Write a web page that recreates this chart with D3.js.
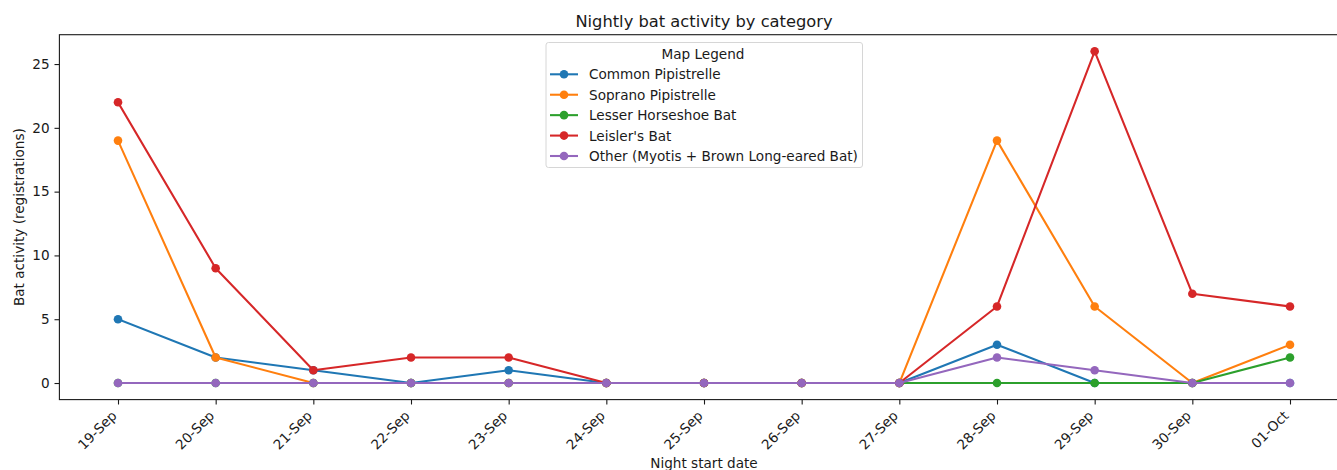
<!DOCTYPE html>
<html>
<head>
<meta charset="utf-8">
<script src="https://cdn.jsdelivr.net/npm/d3@7"></script>
<style>
  html, body { margin: 0; padding: 0; background: #fff; }
  svg { display: block; font-family: "DejaVu Sans", sans-serif; }
</style>
</head>
<body>
<svg id="chart" width="1337" height="470"></svg>
<script>
  // ── Data ────────────────────────────────────────────────────────────────────
  const dates = ["19-Sep", "20-Sep", "21-Sep", "22-Sep", "23-Sep", "24-Sep", "25-Sep",
                 "26-Sep", "27-Sep", "28-Sep", "29-Sep", "30-Sep", "01-Oct"];

  const seriesNames = ["Common Pipistrelle", "Soprano Pipistrelle", "Lesser Horseshoe Bat",
                       "Leisler's Bat", "Other (Myotis + Brown Long-eared Bat)"];
  const seriesColors = ["#1f77b4", "#ff7f0e", "#2ca02c", "#d62728", "#9467bd"];

  const commonPip   = [5, 2, 1, 0, 1, 0, 0, 0, 0, 3, 0, 0, 0];
  const sopranoPip  = [19, 2, 0, 0, 0, 0, 0, 0, 0, 19, 6, 0, 3];
  const lesserHorse = [0, 0, 0, 0, 0, 0, 0, 0, 0, 0, 0, 0, 2];
  const leislers    = [22, 9, 1, 2, 2, 0, 0, 0, 0, 6, 26, 7, 6];
  const otherBats   = [0, 0, 0, 0, 0, 0, 0, 0, 0, 2, 1, 0, 0];
  const seriesValues = [commonPip, sopranoPip, lesserHorse, leislers, otherBats];

  const yTicks = [0, 5, 10, 15, 20, 25];

  // ── Layout ──────────────────────────────────────────────────────────────────
  const AX_LEFT   = 59.4;
  const AX_RIGHT  = 1348.6;   // right spine falls just outside the window
  const AX_TOP    = 34.7;
  const AX_BOTTOM = 399.6;
  const TICK_FS   = 13.6;
  const TEXT_COL  = "#1a1a1a";

  const svg = d3.select("#chart");

  const x = d3.scaleLinear()
    .domain([-0.6, dates.length - 1 + 0.6])
    .range([AX_LEFT, AX_RIGHT]);

  const y = d3.scaleLinear()
    .domain([-1.3, 27.3])
    .range([AX_BOTTOM, AX_TOP]);

  // ── Lines + markers ─────────────────────────────────────────────────────────
  const line = d3.line()
    .x((d, i) => x(i))
    .y(d => y(d));

  const plot = svg.append("g");

  seriesValues.forEach((vals, s) => {
    plot.append("path")
      .datum(vals)
      .attr("d", line)
      .attr("fill", "none")
      .attr("stroke", seriesColors[s])
      .attr("stroke-width", 2.08)
      .attr("stroke-linejoin", "round")
      .attr("stroke-linecap", "square");

    plot.selectAll(null)
      .data(vals)
      .join("circle")
      .attr("cx", (d, i) => x(i))
      .attr("cy", d => y(d))
      .attr("r", 4.3)
      .attr("fill", seriesColors[s]);
  });

  // ── Spines ──────────────────────────────────────────────────────────────────
  svg.append("rect")
    .attr("x", AX_LEFT)
    .attr("y", AX_TOP)
    .attr("width", AX_RIGHT - AX_LEFT)
    .attr("height", AX_BOTTOM - AX_TOP)
    .attr("fill", "none")
    .attr("stroke", TEXT_COL)
    .attr("stroke-width", 1.1);

  // ── Axes ────────────────────────────────────────────────────────────────────
  const xAxisG = svg.append("g")
    .attr("transform", `translate(0, ${AX_BOTTOM})`)
    .call(d3.axisBottom(x)
      .tickValues(d3.range(dates.length))
      .tickFormat(i => dates[i])
      .tickSize(4.9)
      .tickSizeOuter(0));
  xAxisG.select(".domain").remove();
  xAxisG.selectAll(".tick line").attr("stroke", TEXT_COL).attr("stroke-width", 1.1);
  xAxisG.selectAll(".tick text")
    .attr("font-family", "DejaVu Sans")
    .attr("font-size", TICK_FS)
    .attr("fill", TEXT_COL)
    .attr("text-anchor", "end")
    .attr("dy", null)
    .attr("y", null)
    .attr("transform", "translate(-1, 17) rotate(-45)");

  const yAxisG = svg.append("g")
    .attr("transform", `translate(${AX_LEFT}, 0)`)
    .call(d3.axisLeft(y)
      .tickValues(yTicks)
      .tickSize(4.9)
      .tickPadding(4.9)
      .tickSizeOuter(0));
  yAxisG.select(".domain").remove();
  yAxisG.selectAll(".tick line").attr("stroke", TEXT_COL).attr("stroke-width", 1.1);
  yAxisG.selectAll(".tick text")
    .attr("font-family", "DejaVu Sans")
    .attr("font-size", TICK_FS)
    .attr("fill", TEXT_COL);

  // ── Titles ──────────────────────────────────────────────────────────────────
  const midX = (AX_LEFT + AX_RIGHT) / 2;

  svg.append("text")
    .attr("x", midX)
    .attr("y", 27)
    .attr("text-anchor", "middle")
    .attr("font-size", 16.3)
    .attr("fill", TEXT_COL)
    .text("Nightly bat activity by category");

  svg.append("text")
    .attr("x", midX)
    .attr("y", 468)
    .attr("text-anchor", "middle")
    .attr("font-size", TICK_FS)
    .attr("fill", TEXT_COL)
    .text("Night start date");

  svg.append("text")
    .attr("transform", `translate(24, ${(AX_TOP + AX_BOTTOM) / 2}) rotate(-90)`)
    .attr("text-anchor", "middle")
    .attr("font-size", TICK_FS)
    .attr("fill", TEXT_COL)
    .text("Bat activity (registrations)");

  // ── Legend ──────────────────────────────────────────────────────────────────
  const lg = svg.append("g").attr("transform", "translate(546, 42.5)");

  lg.append("rect")
    .attr("x", 0)
    .attr("y", 0)
    .attr("width", 316.5)
    .attr("height", 125)
    .attr("rx", 2.5)
    .attr("fill", "rgba(255,255,255,0.8)")
    .attr("stroke", "#d6d6d6")
    .attr("stroke-width", 1);

  lg.append("text")
    .attr("x", 157)
    .attr("y", 16)
    .attr("text-anchor", "middle")
    .attr("font-size", TICK_FS)
    .attr("fill", TEXT_COL)
    .text("Map Legend");

  const rowY = d3.scaleLinear().domain([0, 4]).range([31.8, 113.5]);

  seriesNames.forEach((name, s) => {
    const ry = rowY(s);
    lg.append("line")
      .attr("x1", 4)
      .attr("x2", 32)
      .attr("y1", ry)
      .attr("y2", ry)
      .attr("stroke", seriesColors[s])
      .attr("stroke-width", 2.08);
    lg.append("circle")
      .attr("cx", 18)
      .attr("cy", ry)
      .attr("r", 4.3)
      .attr("fill", seriesColors[s]);
    lg.append("text")
      .attr("x", 43)
      .attr("y", ry + 5)
      .attr("font-size", TICK_FS)
      .attr("fill", TEXT_COL)
      .text(name);
  });
</script>
</body>
</html>
